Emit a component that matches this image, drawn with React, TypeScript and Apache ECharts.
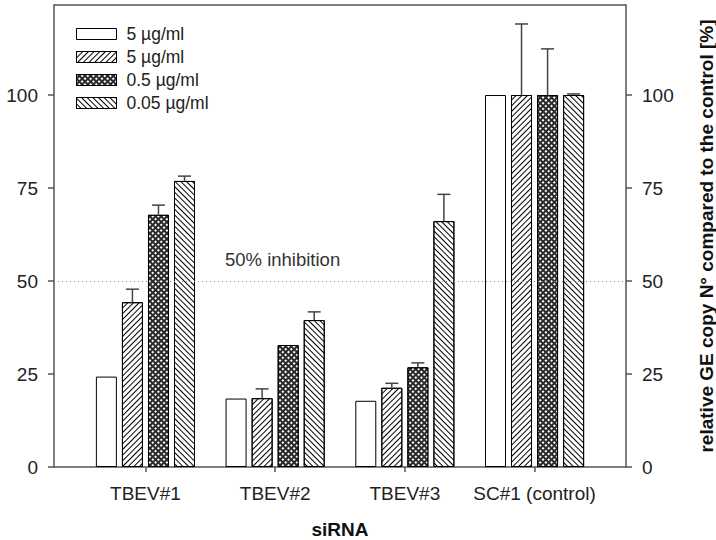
import React, { useEffect, useRef } from "react";
import * as echarts from "echarts";

const categories = ["TBEV#1", "TBEV#2", "TBEV#3", "SC#1 (control)"];
const legendLabels = ["5 µg/ml", "5 µg/ml", "0.5 µg/ml", "0.05 µg/ml"];
const seriesNames = ["5 µg/ml (A)", "5 µg/ml (B)", "0.5 µg/ml", "0.05 µg/ml"];
const valuesA = [24.3, 18.4, 17.8, 100];
const valuesB = [44.3, 18.5, 21.3, 100];
const valuesC = [67.8, 32.8, 26.8, 100];
const valuesD = [76.9, 39.5, 66.1, 100];
const errorsA = [0, 0, 0, 0];
const errorsB = [3.5, 2.5, 1.2, 19.1];
const errorsC = [2.6, 0, 1.2, 12.4];
const errorsD = [1.3, 2.2, 7.2, 0.3];
const yTicks = [0, 25, 50, 75, 100];
const yMax = 124.2;
const inhibitionLevel = 50;
const inhibitionLabel = "50% inhibition";
const xTitle = "siRNA";
const yTitle = "relative GE copy N° compared to the control [%]";

const FONT = "'Liberation Sans', Arial, Helvetica, sans-serif";
const BAR_W = 21;
const BAR_GAP = 0.24;
const PITCH = BAR_W * (1 + BAR_GAP);

export default function App() {
  const ref = useRef<HTMLDivElement>(null);
  useEffect(() => {
    document.body.style.margin = "0";
    if (!ref.current) return;
    const chart = echarts.init(ref.current, null, { renderer: "svg" });
    const allValues = [valuesA, valuesB, valuesC, valuesD];
    const allErrors = [errorsA, errorsB, errorsC, errorsD];
    const fills = ["#fff", "#fff", "#2a2a2a", "#fff"];
    const decals: any[] = [
      null,
      {
        symbol: "rect",
        symbolSize: 1,
        color: "#000",
        dashArrayX: [1, 0],
        dashArrayY: [1, 2.2],
        rotation: -Math.PI / 4,
      },
      {
        symbol: "rect",
        symbolSize: 1,
        color: "#fff",
        dashArrayX: [1.8, 1.3],
        dashArrayY: [1.8, 1.3],
        rotation: Math.PI / 4,
      },
      {
        symbol: "rect",
        symbolSize: 1,
        color: "#000",
        dashArrayX: [1, 0],
        dashArrayY: [1, 2.4],
        rotation: Math.PI / 4,
      },
    ];
    const errData: any[] = [];
    allValues.forEach((vals, s) => {
      vals.forEach((v, c) => {
        errData.push([c, v, allErrors[s][c], s]);
      });
    });
    const axisColor = "#555";
    const option: any = {
      animation: false,
      textStyle: { fontFamily: FONT },
      grid: [
        { left: 54, right: 90, top: 5, bottom: 73, containLabel: false, outerBoundsMode: "none" },
        { left: 80.6, right: 116.6, top: 5, bottom: 73, containLabel: false, outerBoundsMode: "none" },
      ],
      legend: {
        left: 76,
        top: 25,
        padding: 0,
        orient: "vertical",
        itemWidth: 40,
        itemHeight: 11,
        itemGap: 5,
        icon: "rect",
        data: seriesNames,
        formatter: (name: string) => legendLabels[seriesNames.indexOf(name)],
        itemStyle: { borderColor: "#000", borderWidth: 1 },
        textStyle: { fontSize: 17.5, color: "#222", fontFamily: FONT, lineHeight: 18, padding: [0, 0, 0, 5] },
      },
      xAxis: [
        {
          gridIndex: 0,
          type: "value",
          min: 0,
          max: 1,
          position: "bottom",
          axisLine: { show: true, onZero: false, lineStyle: { color: axisColor, width: 1.5 } },
          axisTick: { show: false },
          axisLabel: { show: false },
          splitLine: { show: false },
          name: xTitle,
          nameLocation: "middle",
          nameGap: 53,
          nameTextStyle: { fontSize: 19, fontWeight: "bold", color: "#111", fontFamily: FONT },
        },
        {
          gridIndex: 0,
          type: "value",
          min: 0,
          max: 1,
          position: "top",
          axisLine: { show: true, onZero: false, lineStyle: { color: axisColor, width: 1.5 } },
          axisTick: { show: false },
          axisLabel: { show: false },
          splitLine: { show: false },
        },
        {
          gridIndex: 1,
          type: "category",
          data: categories,
          boundaryGap: true,
          axisLine: { show: false, onZero: false },
          axisTick: { show: true, alignWithLabel: true, interval: 0, length: 5, lineStyle: { color: axisColor, width: 1.5 } },
          axisLabel: { interval: 0, fontSize: 19, color: "#222", margin: 17, fontFamily: FONT },
          splitLine: { show: false },
        },
      ],
      yAxis: [
        {
          gridIndex: 0,
          type: "value",
          position: "left",
          min: 0,
          max: yMax,
          axisLine: { show: true, onZero: false, lineStyle: { color: axisColor, width: 1.5 } },
          axisTick: { show: true, length: 6, customValues: yTicks, lineStyle: { color: axisColor, width: 1.5 } },
          axisLabel: { customValues: yTicks, fontSize: 19, color: "#222", margin: 16, fontFamily: FONT },
          splitLine: { show: false },
        },
        {
          gridIndex: 0,
          type: "value",
          position: "right",
          min: 0,
          max: yMax,
          axisLine: { show: true, onZero: false, lineStyle: { color: axisColor, width: 1.5 } },
          axisTick: { show: true, length: 6, customValues: yTicks, lineStyle: { color: axisColor, width: 1.5 } },
          axisLabel: { customValues: yTicks, fontSize: 19, color: "#222", margin: 16, fontFamily: FONT },
          splitLine: { show: false },
          name: yTitle,
          nameLocation: "middle",
          nameRotate: 90,
          nameGap: 71,
          nameTextStyle: { fontSize: 19, fontWeight: "bold", color: "#111", fontFamily: FONT },
        },
        {
          gridIndex: 1,
          type: "value",
          min: 0,
          max: yMax,
          show: false,
          splitLine: { show: false },
        },
      ],
      series: [
        ...allValues.map((vals, s) => ({
          name: seriesNames[s],
          type: "bar",
          xAxisIndex: 2,
          yAxisIndex: 2,
          data: vals,
          barWidth: BAR_W,
          barGap: `${BAR_GAP * 100}%`,
          itemStyle: {
            color: fills[s],
            borderColor: "#000",
            borderWidth: 1,
            decal: decals[s] || undefined,
          },
          z: 2,
        })),
        {
          name: "errors",
          type: "custom",
          xAxisIndex: 2,
          yAxisIndex: 2,
          data: errData,
          encode: { x: 0, y: 1 },
          z: 5,
          silent: true,
          renderItem: (params: any, api: any) => {
            const c = api.value(0);
            const v = api.value(1);
            const e = api.value(2);
            const s = api.value(3);
            if (!e) return null;
            const base = api.coord([c, v]);
            const top = api.coord([c, v + e]);
            const x = base[0] + (s - 1.5) * PITCH;
            const st = { stroke: "#444", lineWidth: 1.5 };
            return {
              type: "group",
              children: [
                { type: "line", shape: { x1: x, y1: base[1], x2: x, y2: top[1] }, style: st },
                { type: "line", shape: { x1: x - 6.5, y1: top[1], x2: x + 6.5, y2: top[1] }, style: st },
              ],
            };
          },
        },
        {
          name: "threshold",
          type: "line",
          xAxisIndex: 0,
          yAxisIndex: 0,
          data: [],
          silent: true,
          markLine: {
            silent: true,
            symbol: "none",
            label: { show: false },
            lineStyle: { color: "#888", type: [1, 3], width: 1 },
            data: [[{ coord: [0, inhibitionLevel] }, { coord: [1, inhibitionLevel] }]],
          },
        },
      ],
      graphic: [
        {
          type: "text",
          left: 225,
          top: 250,
          style: { text: inhibitionLabel, fontSize: 18.5, fill: "#333", fontFamily: FONT },
        },
      ],
    };
    chart.setOption(option);
    return () => chart.dispose();
  }, []);
  return <div ref={ref} style={{ width: 716, height: 540 }} />;
}
